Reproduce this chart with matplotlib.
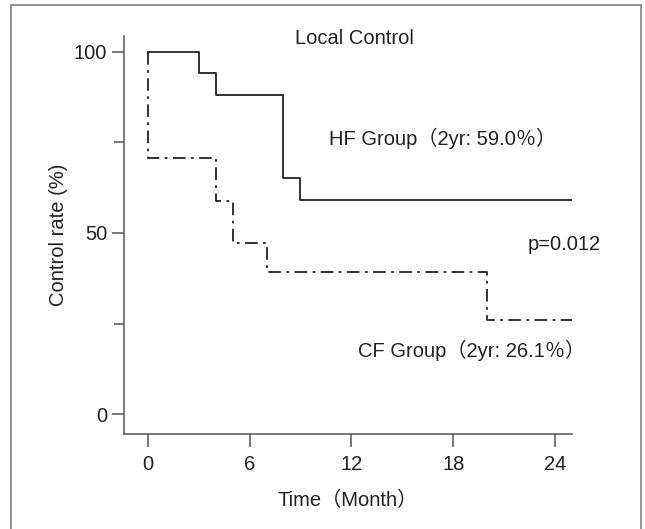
import matplotlib
matplotlib.use('Agg')
import matplotlib.pyplot as plt
import matplotlib.lines as mlines

plt.rcParams['font.family'] = ['Liberation Sans', 'Noto Sans CJK JP', 'DejaVu Sans']

# Kaplan-Meier step data
hf_time = [0, 3, 4, 8, 9, 25]
hf_rate = [100, 94.1, 88.2, 65.3, 59.0, 59.0]
cf_time = [0, 0, 4, 5, 7, 20, 25]
cf_rate = [100, 70.6, 58.8, 47.1, 39.2, 26.1, 26.1]

x_ticks = [0, 6, 12, 18, 24]
y_ticks = [0, 50, 100]
y_minor = [25, 75]

ink = '#222222'
fs = 14.5
fig = plt.figure(figsize=(6.45, 5.29), dpi=100)

# outer frame (no bottom edge visible)
for xs, ys in [([0.017, 0.017], [-0.01, 0.9905]),
               ([0.017, 0.9938], [0.9905, 0.9905]),
               ([0.9938, 0.9938], [0.9905, -0.01])]:
    fig.add_artist(mlines.Line2D(xs, ys, color='#8a8a8a', lw=1.3,
                                 transform=fig.transFigure))

ax = fig.add_axes([0.1922, 0.1796, 0.6946, 0.7524])
ax.step(hf_time, hf_rate, where='post', color=ink, lw=1.3)
ax.step(cf_time, cf_rate, where='post', color=ink, lw=1.3,
        linestyle=(0, (7, 3, 1.5, 3)))

ax.set_xlim(-1.4, 25.0)
ax.set_ylim(-5.5, 104.4)
ax.spines['top'].set_visible(False)
ax.spines['right'].set_visible(False)
for s in ['left', 'bottom']:
    ax.spines[s].set_color('#555555')
    ax.spines[s].set_linewidth(1.1)

ax.set_xticks(x_ticks)
ax.set_yticks(y_ticks)
ax.set_yticks(y_minor, minor=True)
ax.tick_params(axis='both', which='major', length=9, width=1.1, color='#555555',
               labelsize=fs, labelcolor=ink)
ax.tick_params(axis='x', which='major', pad=6)
ax.tick_params(axis='y', which='major', pad=3)
ax.tick_params(axis='y', which='minor', length=7, width=1.1, color='#555555')

ax.set_ylabel('Control rate (%)', fontsize=fs, color=ink, labelpad=4)
ax.set_xlabel('Time（Month）', fontsize=fs, color=ink, labelpad=12)

ax.text(12.2, 103.6, 'Local Control', fontsize=fs, color=ink, ha='center', va='center')
ax.text(10.7, 76.2, 'HF Group（2yr: 59.0％）', fontsize=fs, color=ink, ha='left', va='center')
ax.text(22.4, 46.7, 'p=0.012', fontsize=fs, color=ink, ha='left', va='center')
ax.text(12.4, 17.7, 'CF Group（2yr: 26.1％）', fontsize=fs, color=ink, ha='left', va='center')

plt.savefig('out.png', dpi=100)
